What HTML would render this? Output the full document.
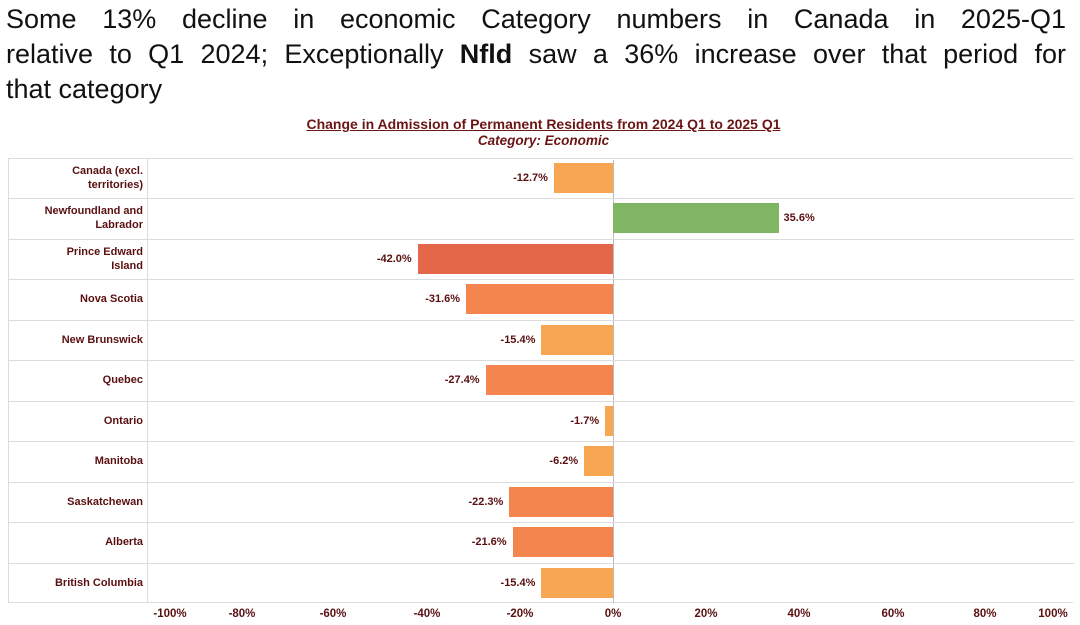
<!DOCTYPE html>
<html><head><meta charset="utf-8"><style>
body{margin:0;width:1080px;height:625px;background:#fff;position:relative;overflow:hidden;font-family:"Liberation Sans",sans-serif}
.t{position:absolute;left:6px;width:1060px;font-size:27px;line-height:35px;color:#111;white-space:nowrap}
.j{text-align:justify;text-align-last:justify;white-space:normal}
.ct{position:absolute;left:0;width:1087px;text-align:center;color:#6b1515;font-weight:bold;font-size:14px}
.lab{position:absolute;left:10px;width:133px;text-align:right;font-size:11px;font-weight:bold;color:#5a1010;line-height:14px;display:flex;align-items:center;justify-content:flex-end;height:40px}
.bar{position:absolute;height:30px}
.v{position:absolute;font-size:11px;font-weight:bold;color:#5a1010;line-height:30px}
.g{position:absolute;left:8px;width:1066px;height:1px;background:#dcdcdc}
.x{position:absolute;top:608px;font-size:11.5px;font-weight:bold;color:#5a1010;width:50px;text-align:center}
</style></head><body>
<div class="t j" style="top:2px">Some 13% decline in economic Category numbers in Canada in 2025-Q1</div>
<div class="t j" style="top:37px">relative to Q1 2024; Exceptionally <b>Nfld</b> saw a 36% increase over that period for</div>
<div class="t" style="top:72px">that category</div>
<div class="ct" style="top:116px;text-decoration:underline">Change in Admission of Permanent Residents from 2024 Q1 to 2025 Q1</div>
<div class="ct" style="top:133px;font-style:italic;font-size:13.5px">Category: Economic</div>
<div style="position:absolute;left:8px;top:158px;width:1065px;height:445px;border:1px solid #dcdcdc;border-right:none;box-sizing:border-box"></div>
<div style="position:absolute;left:147px;top:158px;width:1px;height:445px;background:#dcdcdc"></div>
<div style="position:absolute;left:613px;top:160px;width:1px;height:443px;background:#bbb"></div>
<div id="c"></div>
<script>
var d=[["Canada (excl.<br>territories)",-12.7],["Newfoundland and<br>Labrador",35.6],["Prince Edward<br>Island",-42.0],["Nova Scotia",-31.6],["New Brunswick",-15.4],["Quebec",-27.4],["Ontario",-1.7],["Manitoba",-6.2],["Saskatchewan",-22.3],["Alberta",-21.6],["British Columbia",-15.4]];
var h="",z=613,k=4.65,rh=40.45;
d.forEach(function(r,i){var y=158+i*rh;
if(i>0)h+='<div class="g" style="top:'+Math.round(y)+'px"></div>';
h+='<div class="lab" style="top:'+Math.round(y)+'px">'+r[0]+'</div>';
var v=r[1],w=Math.abs(v)*k,c=v>0?"#7fb563":(v<-40?"#e4674a":(v<-20?"#f5854e":"#f9a652"));
var by=Math.round(y+5);
if(v>0){h+='<div class="bar" style="left:'+z+'px;top:'+by+'px;width:'+w+'px;background:'+c+'"></div>';
h+='<div class="v" style="left:'+(z+w+5)+'px;top:'+by+'px">'+v.toFixed(1)+'%</div>';}
else{h+='<div class="bar" style="left:'+(z-w)+'px;top:'+by+'px;width:'+w+'px;background:'+c+'"></div>';
h+='<div class="v" style="right:'+(1080-(z-w)+6)+'px;top:'+by+'px">'+v.toFixed(1)+'%</div>';}
});
[[-100,170],[-80,242],[-60,333],[-40,427],[-20,520],[0,613],[20,706],[40,799],[60,893],[80,985],[100,1053]].forEach(function(t){
h+='<div class="x" style="left:'+(t[1]-25)+'px">'+t[0]+'%</div>';});
document.getElementById("c").innerHTML=h;
</script>
</body></html>
